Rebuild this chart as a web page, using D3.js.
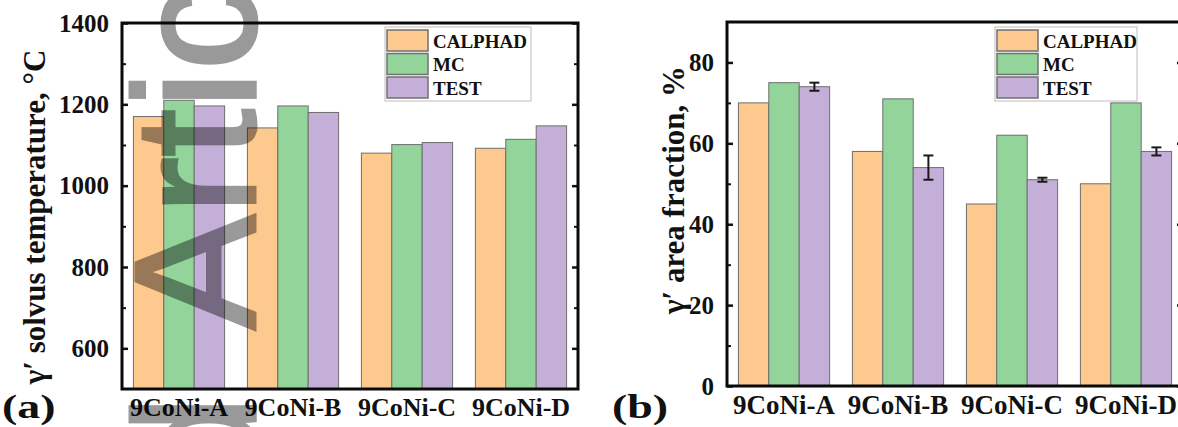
<!DOCTYPE html>
<html>
<head>
<meta charset="utf-8">
<script src="https://cdn.jsdelivr.net/npm/d3@7"></script>
<style>
  html, body { margin: 0; padding: 0; background: #ffffff; }
  svg { display: block; }
  .serif { font-family: "Liberation Serif", "Times New Roman", serif; font-weight: bold; fill: #111; }
  .wm { font-family: "Liberation Sans", Arial, sans-serif; font-weight: normal; fill: #000; stroke: #000; stroke-width: 3px; }
</style>
</head>
<body>
<svg id="chart" width="1178" height="427"></svg>
<script>
// ---- data ----
const categories = ["9CoNi-A", "9CoNi-B", "9CoNi-C", "9CoNi-D"];
const seriesNames = ["CALPHAD", "MC", "TEST"];
const solvusCALPHAD = [1170, 1142, 1080, 1092];
const solvusMC = [1210, 1196, 1101, 1114];
const solvusTEST = [1196, 1180, 1106, 1147];
const areaCALPHAD = [70, 58, 45, 50];
const areaMC = [75, 71, 62, 70];
const areaTEST = [74, 54, 51, 58];
const areaTESTerr = [1, 3, 0.5, 1];
const solvusTicks = [600, 800, 1000, 1200, 1400];
const solvusMinorTicks = [700, 900, 1100, 1300];
const areaTicks = [0, 20, 40, 60, 80];
const areaMinorTicks = [10, 30, 50, 70];

const colors = { CALPHAD: "#fdc98f", MC: "#93d49b", TEST: "#c4afd9" };

const svg = d3.select("#chart");

function drawPanel(opt) {
  const g = svg.append("g");
  const x0 = d3.scaleBand().domain(categories).range([opt.left, opt.right])
    .paddingInner(0.2).paddingOuter(0.1);
  const x1 = d3.scaleBand().domain(seriesNames).range([0, x0.bandwidth()]);
  const y = d3.scaleLinear().domain(opt.domain).range([opt.bottom, opt.top]);

  const rows = categories.map((c, i) => ({
    cat: c,
    vals: seriesNames.map((s, j) => ({ s, v: opt.series[j][i], e: (j === 2 && opt.err) ? opt.err[i] : null }))
  }));

  // bars
  const grp = g.selectAll("g.grp").data(rows).join("g")
    .attr("transform", d => `translate(${x0(d.cat)},0)`);
  grp.selectAll("rect").data(d => d.vals).join("rect")
    .attr("x", d => x1(d.s))
    .attr("width", x1.bandwidth())
    .attr("y", d => y(d.v))
    .attr("height", d => y(opt.domain[0]) - y(d.v))
    .attr("fill", d => colors[d.s])
    .attr("stroke", "#6e6e6e")
    .attr("stroke-width", 1);

  // error bars
  if (opt.err) {
    const eb = grp.selectAll("g.err").data(d => d.vals.filter(v => v.e != null)).join("g")
      .attr("stroke", "#1a1a1a").attr("stroke-width", 2);
    const cx = d => x1(d.s) + x1.bandwidth() / 2;
    eb.append("line").attr("x1", cx).attr("x2", cx)
      .attr("y1", d => y(d.v - d.e)).attr("y2", d => y(d.v + d.e));
    eb.append("line").attr("x1", d => cx(d) - 5).attr("x2", d => cx(d) + 5)
      .attr("y1", d => y(d.v - d.e)).attr("y2", d => y(d.v - d.e));
    eb.append("line").attr("x1", d => cx(d) - 5).attr("x2", d => cx(d) + 5)
      .attr("y1", d => y(d.v + d.e)).attr("y2", d => y(d.v + d.e));
  }

  // left axis
  const yAxis = d3.axisLeft(y).tickValues(opt.ticks).tickFormat(d3.format("d"))
    .tickSizeInner(-6).tickSizeOuter(0).tickPadding(13);
  const ga = g.append("g").attr("transform", `translate(${opt.left},0)`).call(yAxis);
  ga.select(".domain").remove();
  ga.selectAll(".tick line").attr("stroke", "#111").attr("stroke-width", 2.5);
  ga.selectAll(".tick text").attr("class", "serif").style("font-size", opt.tickFont + "px");
  const yMinor = d3.axisLeft(y).tickValues(opt.minor).tickFormat("").tickSizeInner(-4).tickSizeOuter(0);
  const gm = g.append("g").attr("transform", `translate(${opt.left},0)`).call(yMinor);
  gm.select(".domain").remove();
  gm.selectAll(".tick line").attr("stroke", "#111").attr("stroke-width", 2);

  // right axis ticks (inward)
  const yRight = d3.axisRight(y).tickValues(opt.ticks).tickFormat("").tickSizeInner(-6).tickSizeOuter(0);
  const gr = g.append("g").attr("transform", `translate(${opt.right},0)`).call(yRight);
  gr.select(".domain").remove();
  gr.selectAll(".tick line").attr("stroke", "#111").attr("stroke-width", 2.5);
  const yRightMinor = d3.axisRight(y).tickValues(opt.minor).tickFormat("").tickSizeInner(-4).tickSizeOuter(0);
  const grm = g.append("g").attr("transform", `translate(${opt.right},0)`).call(yRightMinor);
  grm.select(".domain").remove();
  grm.selectAll(".tick line").attr("stroke", "#111").attr("stroke-width", 2);

  // bottom axis labels
  const xAxis = d3.axisBottom(x0).tickSize(0).tickPadding(9);
  const gx = g.append("g").attr("transform", `translate(0,${opt.bottom})`).call(xAxis);
  gx.select(".domain").remove();
  gx.selectAll(".tick text").attr("class", "serif").style("font-size", opt.xFont + "px");

  // frame
  g.append("rect")
    .attr("x", opt.left).attr("y", opt.top)
    .attr("width", opt.right - opt.left).attr("height", opt.bottom - opt.top)
    .attr("fill", "none").attr("stroke", "#0a0a0a").attr("stroke-width", 3);

  // legend
  const lg = g.append("g").attr("transform", `translate(${opt.legX},${opt.legY})`);
  lg.append("rect").attr("x", 0).attr("y", 0).attr("width", opt.legW).attr("height", 74)
    .attr("fill", "#fff").attr("stroke", "#bdbdbd").attr("stroke-width", 1);
  seriesNames.forEach((s, i) => {
    lg.append("rect").attr("x", 2).attr("y", 3 + i * 23.5).attr("width", 41).attr("height", 21)
      .attr("fill", colors[s]).attr("stroke", "#707070").attr("stroke-width", 1.5);
    lg.append("text").attr("class", "serif").attr("x", 48).attr("y", 14 + i * 23.5).attr("dy", "0.35em")
      .style("font-size", "19px").text(s);
  });

  // y title
  g.append("text").attr("class", "serif")
    .attr("transform", `translate(${opt.titleX},${opt.titleY}) rotate(-90)`)
    .attr("text-anchor", "middle").attr("dominant-baseline", "central")
    .style("font-size", opt.titleFont + "px").text(opt.title);

  // panel label
  g.append("text").attr("class", "serif")
    .attr("transform", `translate(${opt.labX},${opt.labY}) scale(1.35,1)`)
    .style("font-size", "34px").text(opt.label);
}

drawPanel({
  left: 122, right: 578, top: 23, bottom: 389,
  domain: [500, 1400], ticks: solvusTicks, minor: solvusMinorTicks,
  series: [solvusCALPHAD, solvusMC, solvusTEST], err: null,
  legX: 385, legY: 27, legW: 146,
  title: "γ′ solvus temperature, °C", titleX: 34, titleY: 217, titleFont: 31,
  label: "(a)", labX: 2, labY: 418, tickFont: 25, xFont: 26
});

drawPanel({
  left: 727, right: 1183, top: 22, bottom: 386,
  domain: [0, 90], ticks: areaTicks, minor: areaMinorTicks,
  series: [areaCALPHAD, areaMC, areaTEST], err: areaTESTerr,
  legX: 995, legY: 27, legW: 142,
  title: "γ′ area fraction, %", titleX: 673, titleY: 190, titleFont: 31,
  label: "(b)", labX: 612, labY: 418, tickFont: 25, xFont: 27
});

// watermark (semi-transparent, partly cut off as in the reference)
const wm = svg.append("g").attr("pointer-events", "none").attr("opacity", 0.4);
wm.append("text").attr("class", "wm")
  .attr("transform", "translate(255,330) rotate(-90)")
  .style("font-size", "173px")
  .text("Article");
wm.append("text").attr("class", "wm")
  .attr("transform", "translate(255,395) rotate(-90)")
  .attr("text-anchor", "end")
  .style("font-size", "173px")
  .text("Accepted");
</script>
</body>
</html>
